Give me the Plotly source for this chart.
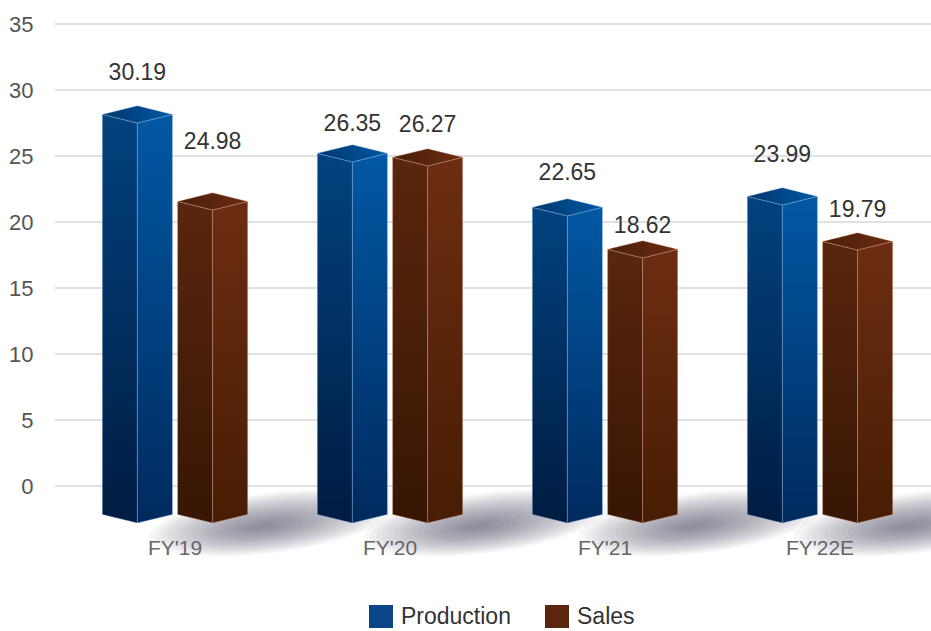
import numpy as np
import plotly.graph_objects as go

# ---------------- data ----------------
categories = ["FY'19", "FY'20", "FY'21", "FY'22E"]
series_names = ["Production", "Sales"]
production_labels = [30.19, 26.35, 22.65, 23.99]
sales_labels = [24.98, 26.27, 18.62, 19.79]
# bar heights as drawn in the picture (front edge length, axis units)
production_heights = [30.3, 27.35, 23.26, 24.09]
sales_heights = [23.71, 27.05, 20.08, 20.68]
y_ticks = [0, 5, 10, 15, 20, 25, 30, 35]

# ---------------- styling / geometry ----------------
FONT = "Liberation Sans, Arial, Helvetica, sans-serif"
BASE = -2.8        # front-bottom of the 3D prisms
DEPTH = 0.65       # half height of the top rhombus (axis units)
HALF_W = 0.163     # half width of a bar (category units)
OFFSET = 0.175     # offset of each series from the category centre
LABEL_GAP = 1.0

W, H = 931, 631
ML, MR, MT, MB = 55, 0, 10, 69
px_per_cat = 215.0
first_cat_px = 175.0
px_per_unit = 13.2
zero_px = 486.0

styles = {
    "Production": dict(
        left=("#001c42", "#02427f"),
        right=("#002a5e", "#0158a4"),
        top=("#00366e", "#0058a3"),
        edge="rgba(150,185,230,0.45)",
        swatch="#0a4686",
    ),
    "Sales": dict(
        left=("#371603", "#5a260e"),
        right=("#471d03", "#6d2d12"),
        top=("#4a1e08", "#6a2c12"),
        edge="rgba(230,170,140,0.40)",
        swatch="#5c250d",
    ),
}

fig = go.Figure()
x_idx = np.arange(len(categories))

# ---------------- soft floor shadows (tilted blurred ellipse) ----------------
theta = np.linspace(0, 2 * np.pi, 90)
ang = np.deg2rad(7)
for i in x_idx:
    for s in np.linspace(1.0, 0.1, 18):
        ex = 122 * s * np.cos(theta)
        ey = 30 * s * np.sin(theta)
        rx = ex * np.cos(ang) - ey * np.sin(ang)
        ry = ex * np.sin(ang) + ey * np.cos(ang)
        cx_px = 95 - 8 * (1 - s)
        cy_px = 0 - 4 * (1 - s)
        fig.add_trace(go.Scatter(
            x=i + (cx_px + rx) / px_per_cat,
            y=BASE + (cy_px + ry) / px_per_unit,
            fill="toself", mode="lines", line=dict(width=0),
            fillcolor="rgba(40,62,78,0.04)", hoverinfo="skip", showlegend=False,
        ))

# ---------------- 3D prisms ----------------
def add_prism(xc, height, st):
    top = BASE + height
    xl, xr = xc - HALF_W, xc + HALF_W
    faces = [
        ([xl, xc, xc, xl, xl], [BASE + DEPTH, BASE, top, top + DEPTH, BASE + DEPTH], "vertical", st["left"]),
        ([xc, xr, xr, xc, xc], [BASE, BASE + DEPTH, top + DEPTH, top, BASE], "vertical", st["right"]),
        ([xl, xc, xr, xc, xl], [top + DEPTH, top, top + DEPTH, top + 2 * DEPTH, top + DEPTH], "horizontal", st["top"]),
    ]
    for fx, fy, gtype, (c0, c1) in faces:
        fig.add_trace(go.Scatter(
            x=fx, y=fy, fill="toself", mode="lines",
            line=dict(width=0.8, color=st["edge"]),
            fillgradient=dict(type=gtype, colorscale=[[0, c0], [1, c1]]),
            hoverinfo="skip", showlegend=False,
        ))

for name, heights, sign in [("Production", production_heights, -1), ("Sales", sales_heights, 1)]:
    for i, h in zip(x_idx, heights):
        add_prism(i + sign * OFFSET, h, styles[name])

# ---------------- value labels ----------------
for labels, sign in [(production_labels, -1), (sales_labels, 1)]:
    fig.add_trace(go.Scatter(
        x=x_idx + sign * OFFSET,
        y=np.array(labels) + LABEL_GAP,
        text=[f"{v:.2f}" for v in labels],
        mode="text", textposition="middle center",
        textfont=dict(family=FONT, size=23, color="#333333"),
        hoverinfo="skip", showlegend=False, cliponaxis=False,
    ))

# ---------------- layout ----------------
x_lo = (ML - first_cat_px) / px_per_cat
x_hi = (W - MR - first_cat_px) / px_per_cat
y_hi = (zero_px - MT) / px_per_unit
y_lo = (zero_px - (H - MB)) / px_per_unit

fig.update_layout(
    width=W, height=H,
    margin=dict(l=ML, r=MR, t=MT, b=MB, pad=0),
    paper_bgcolor="white", plot_bgcolor="white",
    showlegend=False,
    font=dict(family=FONT),
    xaxis=dict(
        range=[x_lo, x_hi], tickvals=list(x_idx), ticktext=categories,
        ticklabelposition="inside", showgrid=False, zeroline=False, showline=False,
        ticks="", tickfont=dict(family=FONT, size=21, color="#666666"), fixedrange=True,
        layer="above traces",
    ),
    yaxis=dict(
        range=[y_lo, y_hi], tickvals=y_ticks, showgrid=True,
        gridcolor="#e1e1e1", gridwidth=2, zeroline=True, zerolinecolor="#e1e1e1",
        zerolinewidth=2, showline=False, ticks="outside", ticklen=16,
        tickcolor="rgba(0,0,0,0)", tickfont=dict(family=FONT, size=22, color="#555555"),
        fixedrange=True,
    ),
)

# ---------------- legend (drawn as swatches + text) ----------------
plot_w = W - ML - MR
plot_h = H - MT - MB
def px_x(p):
    return (p - ML) / plot_w
def px_y(p):
    return (H - MB - p) / plot_h

legend_items = [("Production", 369), ("Sales", 545)]
for name, sx in legend_items:
    fig.add_shape(type="rect", xref="paper", yref="paper",
                  x0=px_x(sx), x1=px_x(sx + 24), y0=px_y(628), y1=px_y(605),
                  fillcolor=styles[name]["swatch"], line=dict(width=0))
    fig.add_annotation(xref="paper", yref="paper", x=px_x(sx + 30), y=px_y(616),
                       text=name, showarrow=False, xanchor="left", yanchor="middle",
                       font=dict(family=FONT, size=23, color="#333333"))

fig.write_html("out.html", config={"displayModeBar": False},
               post_script="document.body.style.margin='0';document.body.style.overflow='hidden';")
